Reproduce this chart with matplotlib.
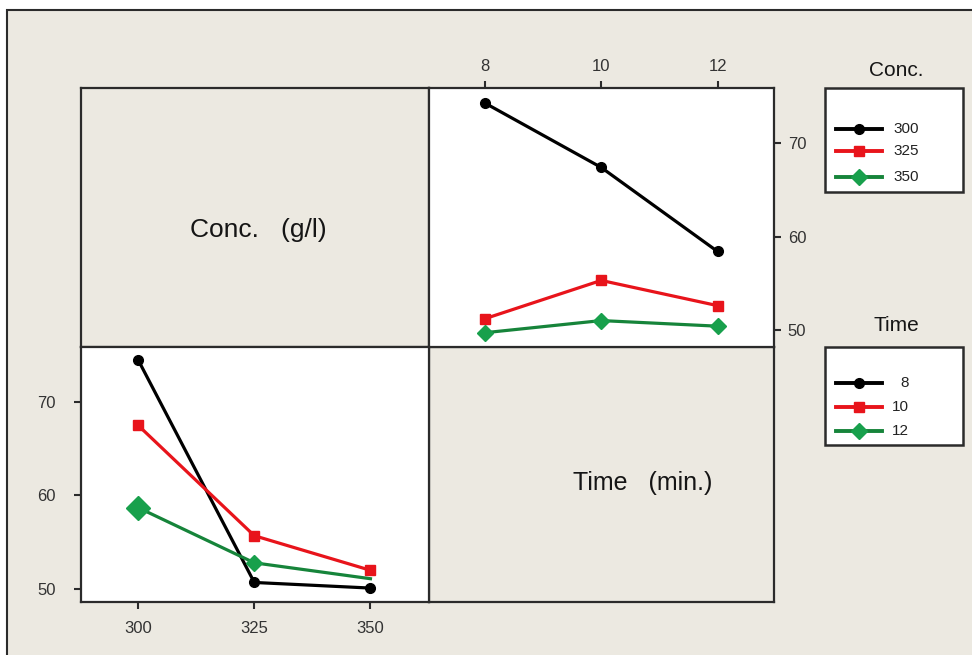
import numpy as np
import matplotlib.pyplot as plt
from matplotlib.patches import Rectangle
from matplotlib.lines import Line2D

plt.rcParams['font.family'] = ['Liberation Sans', 'DejaVu Sans']

W, H = 972, 655
BG = '#ECE9E1'
EDGE = '#2b2b2b'

# factor levels
conc_levels = [300, 325, 350]
time_levels = [8, 10, 12]

# mean response, one line per concentration, plotted against time
conc_300_vs_time = [74.3, 67.4, 58.4]
conc_325_vs_time = [51.2, 55.3, 52.6]
conc_350_vs_time = [49.7, 51.0, 50.4]

# mean response, one line per time, plotted against concentration
time_8_vs_conc = [74.5, 50.7, 50.1]
time_10_vs_conc = [67.5, 55.7, 52.0]
time_12_vs_conc = [58.7, 52.8, 51.1]

y_ticks = [50, 60, 70]

styles = [
    dict(color='black', marker='o', mfc='black', mec='black', ms=7),
    dict(color='#e8141b', marker='s', mfc='#e8141b', mec='#e8141b', ms=7),
    dict(color='#16843a', marker='D', mfc='#18a04c', mec='#18a04c', ms=8),
]


def px(x, y):
    # pixel position -> figure fraction
    return x / W, 1 - y / H


def box(x0, y0, x1, y1):
    l, t = px(x0, y0)
    r, b = px(x1, y1)
    return [l, b, r - l, t - b]


def style_frame(ax, face):
    ax.set_facecolor(face)
    for s in ax.spines.values():
        s.set_color(EDGE)
        s.set_linewidth(1.6)


fig = plt.figure(figsize=(W / 100, H / 100), dpi=100, facecolor='white')

# outer panel
x0, y0 = px(7, 10)
fig.add_artist(Rectangle((x0, -0.2), 1.2, y0 + 0.2, transform=fig.transFigure,
                         facecolor=BG, edgecolor=EDGE, linewidth=1.5, zorder=0))

LEFT, MIDX, RIGHT = 81, 429, 774
TOP, MIDY, BOTTOM = 88, 347, 602

# top-left: label cell
ax_tl = fig.add_axes(box(LEFT, TOP, MIDX, MIDY))
style_frame(ax_tl, BG)
ax_tl.set_xticks([])
ax_tl.set_yticks([])
ax_tl.text(0.51, 0.45, 'Conc.   (g/l)', transform=ax_tl.transAxes, fontsize=19,
           ha='center', va='center', color='#151515')

# bottom-right: label cell
ax_br = fig.add_axes(box(MIDX, MIDY, RIGHT, BOTTOM))
style_frame(ax_br, BG)
ax_br.set_xticks([])
ax_br.set_yticks([])
ax_br.text(0.62, 0.465, 'Time   (min.)', transform=ax_br.transAxes, fontsize=18,
           ha='center', va='center', color='#151515')

# top-right: conc lines vs time
ax_tr = fig.add_axes(box(MIDX, TOP, RIGHT, MIDY))
style_frame(ax_tr, 'white')
for vals, st in zip([conc_300_vs_time, conc_325_vs_time, conc_350_vs_time], styles):
    ax_tr.plot(time_levels, vals, lw=2.3, **st)
ax_tr.set_xlim(7.04, 12.97)
ax_tr.set_ylim(48.17, 75.91)
ax_tr.set_xticks(time_levels)
ax_tr.set_yticks(y_ticks)
ax_tr.xaxis.tick_top()
ax_tr.yaxis.tick_right()
ax_tr.tick_params(length=5, width=1.5, color=EDGE, labelsize=12, labelcolor='#333333', pad=5)

# bottom-left: time lines vs conc
ax_bl = fig.add_axes(box(LEFT, MIDY, MIDX, BOTTOM))
style_frame(ax_bl, 'white')
bl_series = [time_8_vs_conc, time_10_vs_conc, time_12_vs_conc]
for i, (vals, st) in enumerate(zip(bl_series, styles)):
    mk = [0, 1] if i == 2 else None
    ax_bl.plot(conc_levels, vals, lw=2.3, markevery=mk, **st)
# the first point of the 12 min line is drawn larger
ax_bl.plot(conc_levels[0], time_12_vs_conc[0], marker='D', ms=12, color='#18a04c', ls='none')
ax_bl.set_xlim(287.7, 362.6)
ax_bl.set_ylim(48.61, 75.88)
ax_bl.set_xticks(conc_levels)
ax_bl.set_yticks(y_ticks)
ax_bl.tick_params(length=5, width=1.5, color=EDGE, labelsize=12, labelcolor='#333333', pad=4)
ax_bl.tick_params(axis='x', pad=9)
ax_bl.tick_params(axis='y', pad=13)


def draw_legend(title, labels, bx0, by0, bx1, by1, title_y, rows, text_x, align):
    fig.add_artist(Rectangle(px(bx0, by1), (bx1 - bx0) / W, (by1 - by0) / H,
                             transform=fig.transFigure, facecolor='white',
                             edgecolor=EDGE, linewidth=1.8, zorder=2))
    tx, ty = px((bx0 + bx1) / 2 + 2, title_y)
    fig.text(tx, ty, title, fontsize=15, ha='center', va='center', color='#151515')
    for lab, st, ry in zip(labels, styles, rows):
        a, yy = px(836, ry)
        b, _ = px(882, ry)
        fig.add_artist(Line2D([a, (a + b) / 2, b], [yy] * 3, transform=fig.transFigure,
                              lw=2.8, markevery=[1], zorder=3, **st))
        lx, ly = px(text_x, ry)
        fig.text(lx, ly, str(lab), fontsize=11, ha=align, va='center', color='#222222')


draw_legend('Conc.', conc_levels, 825, 88, 963, 192, 71, [129, 151, 177], 893, 'left')
draw_legend('Time', time_levels, 825, 347, 963, 445, 325, [383, 407, 431], 909, 'right')

plt.savefig('out.png', dpi=100, facecolor=fig.get_facecolor())
